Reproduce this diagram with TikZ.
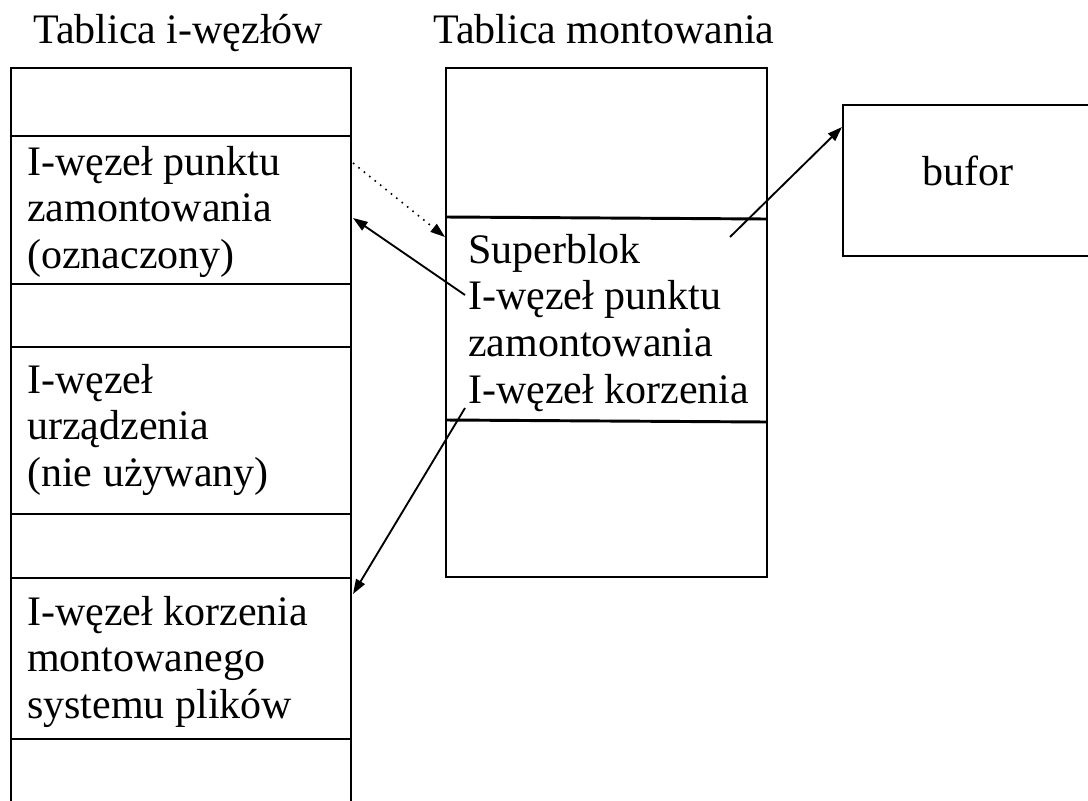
\documentclass[tikz,border=0pt]{standalone}
\usepackage{fontspec}
\setmainfont{Liberation Serif}
\usetikzlibrary{arrows.meta}
\begin{document}
\begin{tikzpicture}[x=0.75pt,y=-0.75pt,
  frame/.style={line width=2.2pt},
  link/.style={line width=1.4pt,-{Triangle[length=11pt,width=7.5pt]}},
  dotlink/.style={line width=1.2pt,dash pattern=on 1.2pt off 4pt,-{Triangle[length=11pt,width=7.5pt]}},
  lbl/.style={anchor=base west,inner sep=0pt,font=\fontsize{31.5}{35}\selectfont},
]
\useasboundingbox (0,0) rectangle (1088,800);

% i-node table (runs off the bottom edge)
\draw[frame] (11,805) -- (11,68) -- (351,68) -- (351,805);
\foreach \y in {136,284,347,514,578,739}
  \draw[frame] (11,\y) -- (351,\y);

% mount table
\draw[frame] (446,68) rectangle (767,577);
\draw[frame] (446,217) -- (767,219);
\draw[frame] (446,420) -- (767,422);

% buffer (runs off the right edge)
\draw[frame] (1095,105) -- (843,105) -- (843,256) -- (1095,256);

% headings
\node[lbl] (hInodes) at (33,43) {Tablica i-węzłów};
\node[lbl] (hMount) at (433,43) {Tablica montowania};

% i-node table entries
\node[lbl] (iMountPt) at (27,175) {\begin{tabular}[t]{@{}l@{}}I-węzeł punktu\\zamontowania\\(oznaczony)\end{tabular}};
\node[lbl] (iDevice) at (27,393) {\begin{tabular}[t]{@{}l@{}}I-węzeł\\urządzenia\\(nie używany)\end{tabular}};
\node[lbl] (iRoot) at (27,625) {\begin{tabular}[t]{@{}l@{}}I-węzeł korzenia\\montowanego\\systemu plików\end{tabular}};

% mount table entry
\node[lbl] (mEntry) at (468,263) {\begin{tabular}[t]{@{}l@{}}Superblok\\I-węzeł punktu\\zamontowania\\I-węzeł korzenia\end{tabular}};

% buffer label
\node[lbl] (buf) at (922,185) {bufor};

% connector end points
\coordinate (dotS) at (353,163);
\coordinate (dotE) at (445,237);
\coordinate (mpS) at (465,295);
\coordinate (mpE) at (353,218);
\coordinate (rtS) at (465,408);
\coordinate (rtE) at (353,594);
\coordinate (sbS) at (730,237);
\coordinate (sbE) at (842,127);

\draw[dotlink] (dotS) -- (dotE);
\draw[link] (mpS) -- (mpE);
\draw[link] (rtS) -- (rtE);
\draw[link] (sbS) -- (sbE);
\end{tikzpicture}
\end{document}
